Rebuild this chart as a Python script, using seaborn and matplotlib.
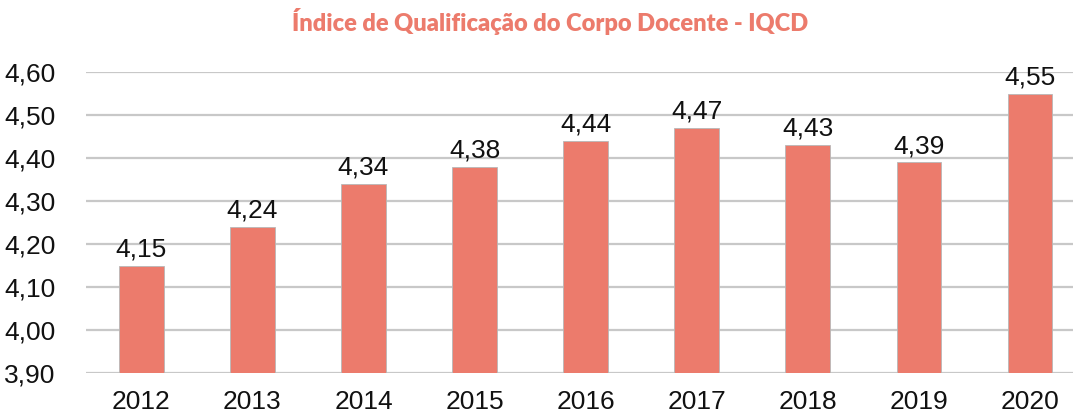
"""Índice de Qualificação do Corpo Docente - IQCD, bar chart."""

import matplotlib
matplotlib.use("Agg")
import matplotlib.pyplot as plt
import pandas as pd
import seaborn as sns

years = ["2012", "2013", "2014", "2015", "2016", "2017", "2018", "2019", "2020"]
iqcd = [4.15, 4.24, 4.34, 4.38, 4.44, 4.47, 4.43, 4.39, 4.55]
y_ticks = [3.90, 4.00, 4.10, 4.20, 4.30, 4.40, 4.50, 4.60]

BAR_COLOR = "#EC7B6C"

sns.set_theme(style="white")
plt.rcParams["font.family"] = ["Liberation Sans", "DejaVu Sans"]

df = pd.DataFrame({"ano": years, "iqcd": iqcd})

fig = plt.figure(figsize=(10.73, 4.15), dpi=100)
ax = fig.add_axes([0.080, 0.101, 0.9315, 0.7255])

sns.barplot(data=df, x="ano", y="iqcd", color=BAR_COLOR, saturation=1,
            width=0.4, edgecolor="#b8b8b8", linewidth=0.6, ax=ax, zorder=3)

ax.set_ylim(3.90, 4.60)
ax.set_xlim(-0.5, len(years) - 0.5)
ax.set_yticks(y_ticks)
ax.set_yticklabels([f"{t:.2f}".replace(".", ",") for t in y_ticks])
ax.yaxis.grid(True, color="#c8c8c8", linewidth=1.6, zorder=0)
ax.set_axisbelow(True)
for side in ["top", "right", "left", "bottom"]:
    ax.spines[side].set_visible(False)
ax.tick_params(axis="both", length=0, labelsize=19, colors="#111111")
ax.tick_params(axis="y", pad=22)
ax.tick_params(axis="x", pad=12)
ax.set_xlabel("")
ax.set_ylabel("")

# value labels
for i, v in enumerate(iqcd):
    ax.text(i, v + 0.01, f"{v:.2f}".replace(".", ","), ha="center", va="bottom",
            fontsize=19, color="#111111", clip_on=False)

fig.text(0.513, 0.947, "Índice de Qualificação do Corpo Docente - IQCD",
         ha="center", va="center", fontsize=17, fontweight="heavy",
         color=BAR_COLOR, family=["Lato", "DejaVu Sans"])

fig.savefig("out.png", dpi=100)
plt.close(fig)
